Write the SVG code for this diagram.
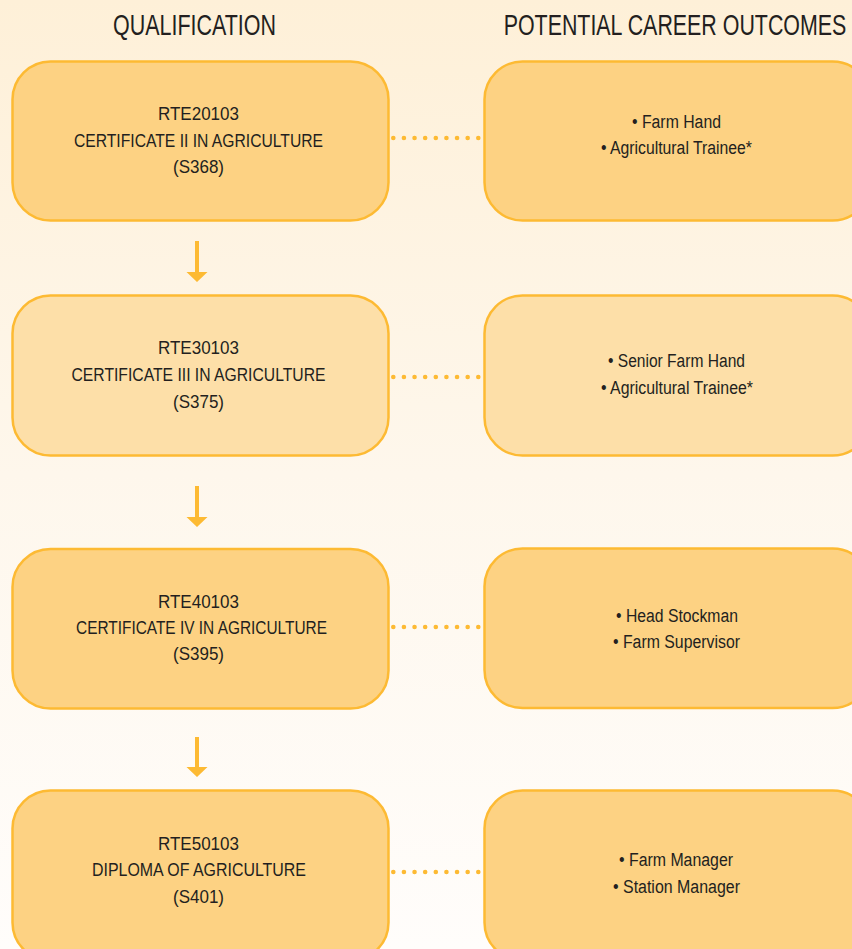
<svg xmlns="http://www.w3.org/2000/svg" width="852" height="949" viewBox="0 0 852 949">
<defs>
<linearGradient id="bg" x1="0" y1="0" x2="0" y2="1">
<stop offset="0" stop-color="#FEF0D8"/>
<stop offset="0.5" stop-color="#FEF7EC"/>
<stop offset="1" stop-color="#FFFDFB"/>
</linearGradient>
<style>
.box{fill:#FDD283;stroke:#FDBA33;stroke-width:2.5}
.box.light{fill:#FDDFA8}
.t{font-family:"Liberation Sans",Arial,sans-serif;fill:#231F20;text-anchor:middle}
.q{font-size:19px}
.c{font-size:18px}
.h{font-size:29px}
.dots{stroke:#FDBA33;stroke-width:4.6;stroke-linecap:round;stroke-dasharray:0 10.625;fill:none}
.arrow{fill:#FDBA33}
</style>
</defs>
<rect x="0" y="0" width="852" height="949" fill="url(#bg)"/>

<g id="headers">
<text class="t h" x="194.5" y="35" textLength="163" lengthAdjust="spacingAndGlyphs">QUALIFICATION</text>
<text class="t h" transform="translate(675,35) scale(0.738,1)" x="0" y="0">POTENTIAL CAREER OUTCOMES</text>
</g>

<g id="connectors">
<line class="dots" x1="393.3" y1="138" x2="478.6" y2="138"/>
<line class="dots" x1="393.3" y1="377" x2="478.6" y2="377"/>
<line class="dots" x1="393.3" y1="627" x2="478.6" y2="627"/>
<line class="dots" x1="393.3" y1="872" x2="478.6" y2="872"/>
<path class="arrow" d="M195,241 h4 v31 h8.5 l-10.5,10 l-10.5,-10 h8.5 z"/>
<path class="arrow" d="M195,486 h4 v31 h8.5 l-10.5,10 l-10.5,-10 h8.5 z"/>
<path class="arrow" d="M195,737 h4 v30 h8.5 l-10.5,10 l-10.5,-10 h8.5 z"/>
</g>

<g id="q1">
<rect class="box" x="12.5" y="61.5" width="376" height="159" rx="38"/>
<text class="t q" x="198.5" y="120" textLength="81" lengthAdjust="spacingAndGlyphs">RTE20103</text>
<text class="t q" x="198.5" y="147" textLength="249" lengthAdjust="spacingAndGlyphs">CERTIFICATE II IN AGRICULTURE</text>
<text class="t q" x="198.5" y="173" textLength="51" lengthAdjust="spacingAndGlyphs">(S368)</text>
</g>
<g id="o1">
<rect class="box" x="484.5" y="61.5" width="386" height="159" rx="38"/>
<text class="t c" x="676.5" y="128" textLength="89" lengthAdjust="spacingAndGlyphs">• Farm Hand</text>
<text class="t c" x="676.5" y="154" textLength="151" lengthAdjust="spacingAndGlyphs">• Agricultural Trainee*</text>
</g>

<g id="q2">
<rect class="box light" x="12.5" y="295.5" width="376" height="160" rx="38"/>
<text class="t q" x="198.5" y="354" textLength="81" lengthAdjust="spacingAndGlyphs">RTE30103</text>
<text class="t q" x="198.5" y="381" textLength="254" lengthAdjust="spacingAndGlyphs">CERTIFICATE III IN AGRICULTURE</text>
<text class="t q" x="198.5" y="408" textLength="51" lengthAdjust="spacingAndGlyphs">(S375)</text>
</g>
<g id="o2">
<rect class="box light" x="484.5" y="295.5" width="386" height="160" rx="38"/>
<text class="t c" x="676.5" y="367" textLength="137" lengthAdjust="spacingAndGlyphs">• Senior Farm Hand</text>
<text class="t c" x="677" y="394" textLength="152" lengthAdjust="spacingAndGlyphs">• Agricultural Trainee*</text>
</g>

<g id="q3">
<rect class="box" x="12.5" y="549" width="376" height="159.5" rx="38"/>
<text class="t q" x="198.5" y="608" textLength="81" lengthAdjust="spacingAndGlyphs">RTE40103</text>
<text class="t q" x="201.5" y="634" textLength="251" lengthAdjust="spacingAndGlyphs">CERTIFICATE IV IN AGRICULTURE</text>
<text class="t q" x="198.5" y="660" textLength="51" lengthAdjust="spacingAndGlyphs">(S395)</text>
</g>
<g id="o3">
<rect class="box" x="484.5" y="548.5" width="386" height="159.5" rx="38"/>
<text class="t c" x="677" y="622" textLength="122" lengthAdjust="spacingAndGlyphs">• Head Stockman</text>
<text class="t c" x="676.5" y="648" textLength="127" lengthAdjust="spacingAndGlyphs">• Farm Supervisor</text>
</g>

<g id="q4">
<rect class="box" x="12.5" y="790.5" width="376" height="170" rx="38"/>
<text class="t q" x="198.5" y="850" textLength="81" lengthAdjust="spacingAndGlyphs">RTE50103</text>
<text class="t q" x="199" y="876" textLength="214" lengthAdjust="spacingAndGlyphs">DIPLOMA OF AGRICULTURE</text>
<text class="t q" x="198.5" y="903" textLength="51" lengthAdjust="spacingAndGlyphs">(S401)</text>
</g>
<g id="o4">
<rect class="box" x="484.5" y="790.5" width="386" height="170" rx="38"/>
<text class="t c" x="676" y="866" textLength="114" lengthAdjust="spacingAndGlyphs">• Farm Manager</text>
<text class="t c" x="676.5" y="893" textLength="127" lengthAdjust="spacingAndGlyphs">• Station Manager</text>
</g>
</svg>
